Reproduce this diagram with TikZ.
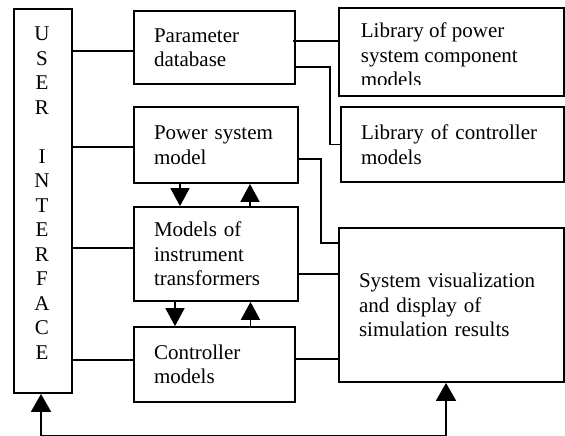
\documentclass[tikz,border=0pt]{standalone}
\usepackage{fontspec}
\setmainfont{Liberation Serif}
\usetikzlibrary{arrows.meta}
\begin{document}
\begin{tikzpicture}[x=1pt, y=-1pt, line width=1.8pt,
  every node/.style = {font=\fontsize{21}{24.5}\selectfont},
  box/.style = {shape=rectangle, draw, inner xsep=20pt, align=left},
  arr/.style = {-{Triangle[width=19pt,length=18pt]}},
  biarr/.style = {{Triangle[width=20pt,length=18pt]}-{Triangle[width=20pt,length=18pt]}}]
  \useasboundingbox (0,0) rectangle (565,436);

  \node[box, minimum width=58pt, minimum height=384pt] (UI) at (43,201) {};
  \node[align=center, inner sep=0pt] (UItext) at (42,193)
    {U\\S\\E\\R\\[24.5pt]I\\N\\T\\E\\R\\F\\A\\C\\E};
  \node[box, text width=121pt, minimum height=73pt] (PD) at (214.5,47.5) {Parameter\\database};
  \node[box, text width=124pt, minimum height=76pt] (PSM) at (216,145) {Power system\\model};
  \node[box, text width=124pt, minimum height=94pt] (MIT) at (216,254) {Models of\\instrument\\transformers};
  \node[box, text width=121pt, minimum height=75pt] (CM) at (214.5,364.5) {Controller\\models};
  \node[box, minimum width=225pt, minimum height=88pt] (LPC) at (451.5,52) {};
  \begin{scope}
    \clip (LPC.north west) rectangle ([yshift=12pt]LPC.south east);
    \node[align=left, anchor=west, inner sep=0pt] (LPCtext) at (360,55) {Library of power\\system component\\models};
  \end{scope}
  \node[box, text width=183pt, minimum height=75pt] (LCM) at (452.5,144.5) {Library of controller\\models};
  \node[box, text width=185pt, minimum height=154pt] (SV) at (451.5,305) {System visualization\\and display of\\simulation results};

  \draw ([yshift=-3.5pt]PD.west) -- ([yshift=-3.5pt]PD.west -| UI.east);
  \draw ([yshift=-2pt]PSM.west) -- ([yshift=-2pt]PSM.west -| UI.east);
  \draw ([yshift=6pt]MIT.west) -- ([yshift=6pt]MIT.west -| UI.east);
  \draw ([yshift=4.5pt]CM.west) -- ([yshift=4.5pt]CM.west -| UI.east);

  \draw ([xshift=-3pt,yshift=11pt]LPC.west -| PD.east) -- ([yshift=11pt]LPC.west);
  \draw ([yshift=-19.5pt]PD.east) -- ++(34,0) |- (LCM.west);
  \draw ([yshift=-14pt]PSM.east) -- ++(22,0) |- ([yshift=62pt]SV.west);
  \draw ([yshift=-20pt]MIT.east) -- ([yshift=-20pt]MIT.east -| SV.west);
  \draw ([yshift=5.5pt]CM.east) -- ([yshift=5.5pt]CM.east -| SV.west);

  \draw[arr] ([xshift=-36pt]PSM.south) -- ([xshift=-36pt]PSM.south |- MIT.north);
  \draw[arr] ([xshift=34pt]MIT.north) -- ([xshift=34pt]MIT.north |- PSM.south);
  \draw[arr] ([xshift=-41pt]MIT.south) -- ([xshift=-41pt]MIT.south |- CM.north);
  \draw[arr] ([xshift=36pt]CM.north) -- ([xshift=36pt]CM.north |- MIT.south);

  \draw[biarr] ([xshift=-2pt]UI.south) -- ++(0,42) -| ([xshift=-5.5pt]SV.south);
\end{tikzpicture}
\end{document}
